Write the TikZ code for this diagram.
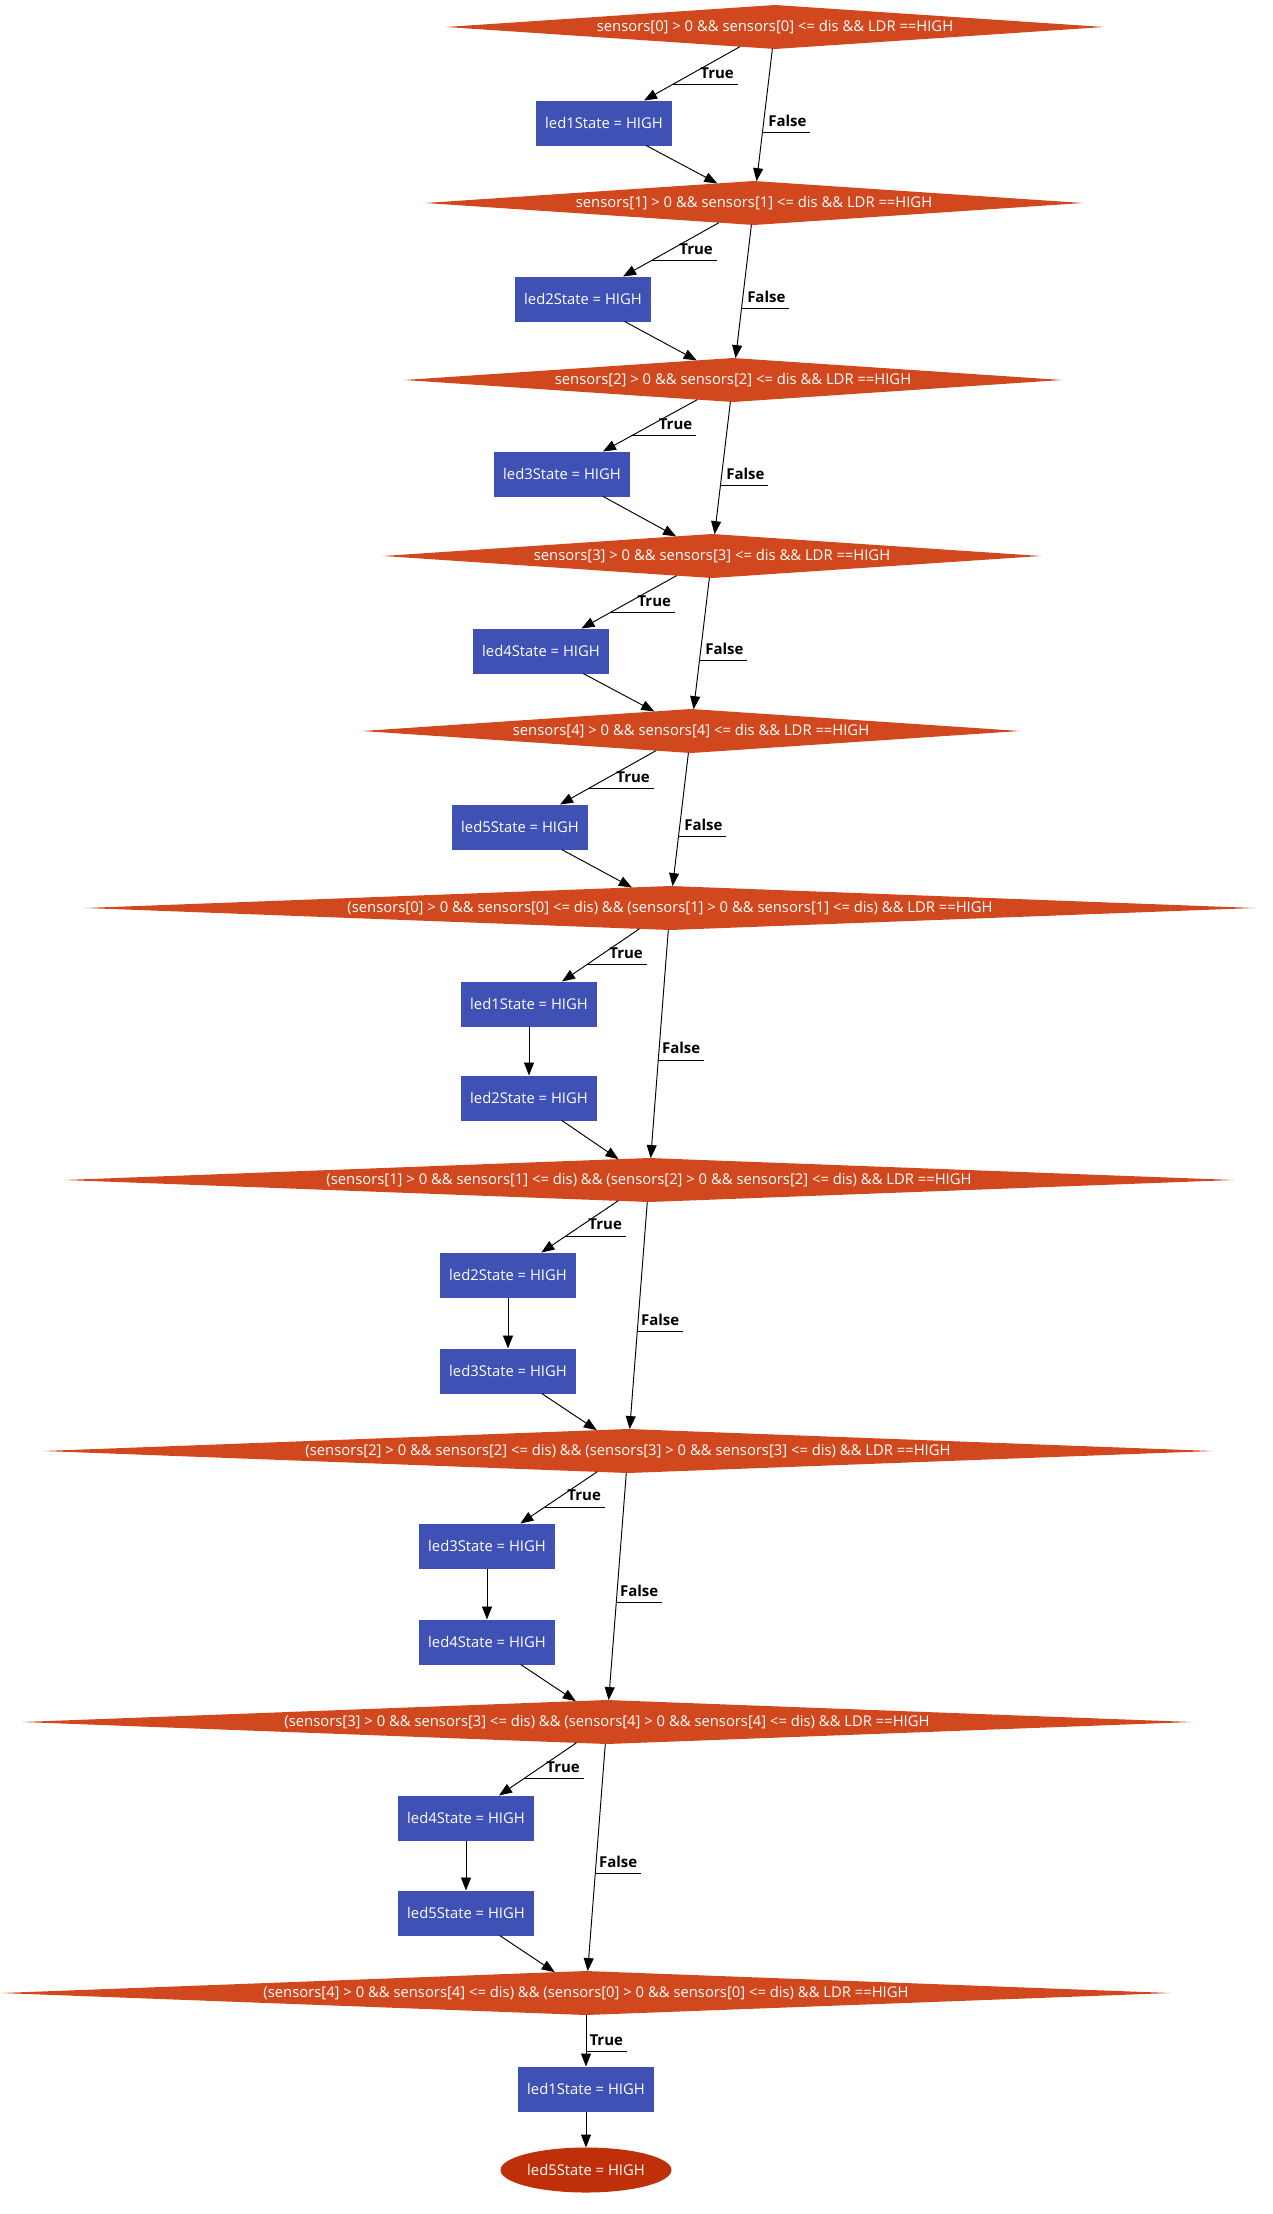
\documentclass[tikz,border=0pt]{standalone}
\usepackage{fontspec}
\setmainfont{Open Sans}
\usetikzlibrary{shapes.geometric,arrows.meta}
\definecolor{dcol}{RGB}{210,72,30}
\definecolor{bcol}{RGB}{63,81,181}
\definecolor{ecol}{RGB}{191,48,10}
\begin{document}
\begin{tikzpicture}[x=1pt,y=-1pt,
  every node/.style={font=\fontsize{14.8}{17}\selectfont, outer sep=0pt},
  dia/.style={diamond, aspect=15, fill=dcol, text=white, inner sep=0pt, minimum width=658pt, minimum height=44pt},
  wdia/.style={dia, aspect=26.6, minimum width=1170pt},
  box/.style={rectangle, fill=bcol, text=white, minimum width=136pt, minimum height=45pt, inner sep=0pt},
  term/.style={ellipse, fill=ecol, text=white, minimum width=171pt, minimum height=45pt, inner sep=0pt},
  conn/.style={draw=black, line width=0.95pt, -{Triangle[length=13pt,width=10pt]}},
  uline/.style={draw=black, line width=0.95pt},
  lbl/.style={font=\bfseries\fontsize{15}{17}\selectfont, anchor=base east, inner sep=0pt, xshift=-4pt, yshift=6pt}
]
\useasboundingbox (0,0) rectangle (1272,2214);

% narrow decisions
\node[dia] (d1) at (775,27) {sensors[0] > 0 \&\& sensors[0] <= dis \&\& LDR ==HIGH};
\node[box] (b1) at (604,123) {led1State = HIGH};
\node[dia] (d2) at (754,203) {sensors[1] > 0 \&\& sensors[1] <= dis \&\& LDR ==HIGH};
\node[box] (b2) at (583,299) {led2State = HIGH};
\node[dia] (d3) at (733,380) {sensors[2] > 0 \&\& sensors[2] <= dis \&\& LDR ==HIGH};
\node[box] (b3) at (562,474) {led3State = HIGH};
\node[dia] (d4) at (712,556) {sensors[3] > 0 \&\& sensors[3] <= dis \&\& LDR ==HIGH};
\node[box] (b4) at (541,651) {led4State = HIGH};
\node[dia] (d5) at (691,731) {sensors[4] > 0 \&\& sensors[4] <= dis \&\& LDR ==HIGH};
\node[box] (b5) at (520,827) {led5State = HIGH};

% wide decisions
\node[wdia] (d6) at (670,908) {(sensors[0] > 0 \&\& sensors[0] <= dis) \&\& (sensors[1] > 0 \&\& sensors[1] <= dis) \&\& LDR ==HIGH};
\node[box] (b6a) at (529,1004) {led1State = HIGH};
\node[box] (b6b) at (529,1098) {led2State = HIGH};
\node[wdia] (d7) at (649,1180) {(sensors[1] > 0 \&\& sensors[1] <= dis) \&\& (sensors[2] > 0 \&\& sensors[2] <= dis) \&\& LDR ==HIGH};
\node[box] (b7a) at (508,1275) {led2State = HIGH};
\node[box] (b7b) at (508,1371) {led3State = HIGH};
\node[wdia] (d8) at (628,1451) {(sensors[2] > 0 \&\& sensors[2] <= dis) \&\& (sensors[3] > 0 \&\& sensors[3] <= dis) \&\& LDR ==HIGH};
\node[box] (b8a) at (487,1546) {led3State = HIGH};
\node[box] (b8b) at (487,1642) {led4State = HIGH};
\node[wdia] (d9) at (607,1722) {(sensors[3] > 0 \&\& sensors[3] <= dis) \&\& (sensors[4] > 0 \&\& sensors[4] <= dis) \&\& LDR ==HIGH};
\node[box] (b9a) at (466,1818) {led4State = HIGH};
\node[box] (b9b) at (466,1913) {led5State = HIGH};
\node[wdia] (d10) at (586,1993) {(sensors[4] > 0 \&\& sensors[4] <= dis) \&\& (sensors[0] > 0 \&\& sensors[0] <= dis) \&\& LDR ==HIGH};
\node[box] (b10) at (586,2089) {led1State = HIGH};
\node[term] (e) at (586,2170) {led5State = HIGH};

% narrow rows
\draw[conn] (d1) -- (b1) coordinate[pos=0.7] (t1);
\draw[conn] (b1) -- (d2);
\draw[conn] (d1) -- (d2) coordinate[pos=0.63] (f1);
\draw[conn] (d2) -- (b2) coordinate[pos=0.7] (t2);
\draw[conn] (b2) -- (d3);
\draw[conn] (d2) -- (d3) coordinate[pos=0.63] (f2);
\draw[conn] (d3) -- (b3) coordinate[pos=0.7] (t3);
\draw[conn] (b3) -- (d4);
\draw[conn] (d3) -- (d4) coordinate[pos=0.63] (f3);
\draw[conn] (d4) -- (b4) coordinate[pos=0.7] (t4);
\draw[conn] (b4) -- (d5);
\draw[conn] (d4) -- (d5) coordinate[pos=0.63] (f4);
\draw[conn] (d5) -- (b5) coordinate[pos=0.7] (t5);
\draw[conn] (b5) -- (d6);
\draw[conn] (d5) -- (d6) coordinate[pos=0.63] (f5);

\foreach \i in {1,...,5}{
  \draw[uline] (t\i) -- ++(65,0) node[lbl]{True};
  \draw[uline] (f\i) -- ++(48,0) node[lbl]{False};
}

% wide rows
\draw[conn] (d6) -- (b6a) coordinate[pos=0.68] (t6);
\draw[conn] (b6a) -- (b6b);
\draw[conn] (b6b) -- (d7);
\draw[conn] (d6) -- (d7) coordinate[pos=0.57] (f6);
\draw[conn] (d7) -- (b7a) coordinate[pos=0.68] (t7);
\draw[conn] (b7a) -- (b7b);
\draw[conn] (b7b) -- (d8);
\draw[conn] (d7) -- (d8) coordinate[pos=0.57] (f7);
\draw[conn] (d8) -- (b8a) coordinate[pos=0.68] (t8);
\draw[conn] (b8a) -- (b8b);
\draw[conn] (b8b) -- (d9);
\draw[conn] (d8) -- (d9) coordinate[pos=0.57] (f8);
\draw[conn] (d9) -- (b9a) coordinate[pos=0.68] (t9);
\draw[conn] (b9a) -- (b9b);
\draw[conn] (b9b) -- (d10);
\draw[conn] (d9) -- (d10) coordinate[pos=0.57] (f9);

\foreach \i in {6,...,9}{
  \draw[uline] (t\i) -- ++(60,0) node[lbl]{True};
  \draw[uline] (f\i) -- ++(46,0) node[lbl]{False};
}

\draw[conn] (d10) -- (b10) coordinate[pos=0.7] (t10);
\draw[uline] (t10) -- ++(41,0) node[lbl]{True};
\draw[conn] (b10) -- (e);
\end{tikzpicture}
\end{document}
